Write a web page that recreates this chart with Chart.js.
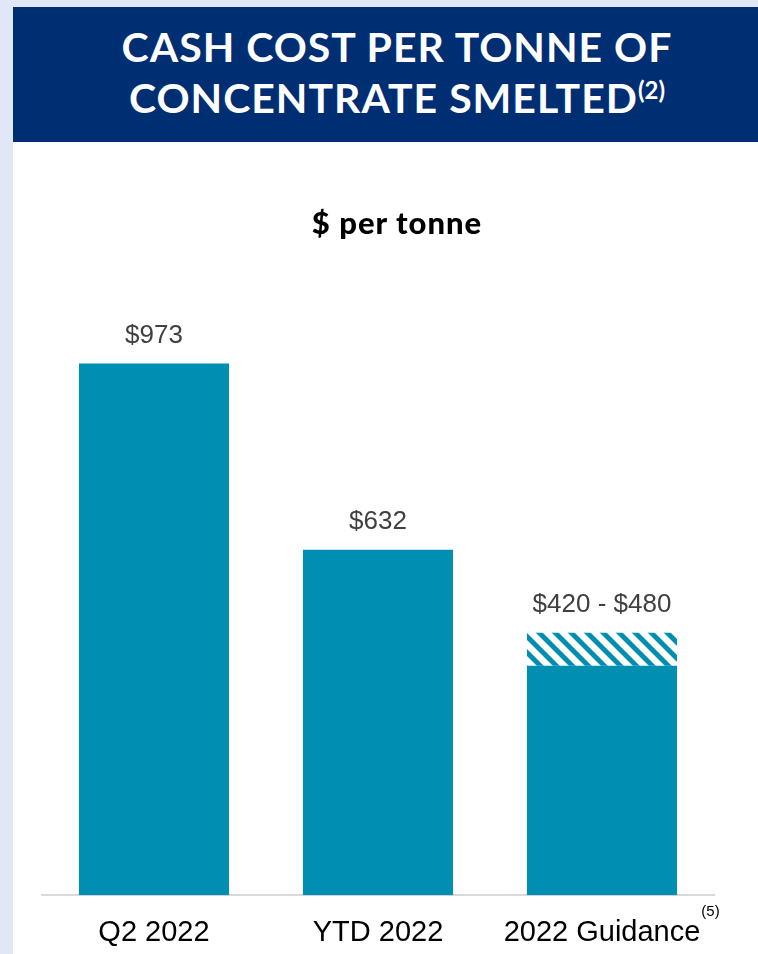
<!DOCTYPE html>
<html>
<head>
<meta charset="utf-8">
<script src="https://cdn.jsdelivr.net/npm/chart.js@4"></script>
<style>
    body { margin: 0; background: #e1e7f6; width: 758px; height: 954px; overflow: hidden; position: relative; }
    #banda { position: absolute; left: 13px; top: 7px; width: 745px; height: 135px; background: #002e73; }
    #titulo { position: absolute; left: 36px; top: 21px; width: 722px; text-align: center; color: #fff;
              font-family: Lato, "DejaVu Sans", sans-serif; font-weight: 700; font-size: 41px; line-height: 51px; letter-spacing: 1px; }
    #titulo sup { font-size: 24px; vertical-align: 0; position: relative; top: -14px; letter-spacing: 0; }
    #panel { position: absolute; left: 13px; top: 142px; width: 745px; height: 812px; background: #fff; overflow: hidden; }
    #subtitulo { position: absolute; left: 0; width: 768px; top: 61px; text-align: center; color: #000;
                 font-family: Lato, "DejaVu Sans", sans-serif; font-weight: 900; font-size: 31px; line-height: 38px; letter-spacing: 1px; }
    canvas { position: absolute; left: 0; top: 0; }
</style>
</head>
<body>
<div id="banda"></div>
<div id="titulo">CASH COST PER TONNE OF<br>CONCENTRATE SMELTED<sup>(2)</sup></div>
<div id="panel">
    <canvas id="costoChart" width="745" height="820"></canvas>
    <div id="subtitulo">$ per tonne</div>
</div>
<script>
// Datos del gráfico
const categorias = ["Q2 2022", "YTD 2022", "2022 Guidance"];
const costoBase = [973, 632, 420];
const rangoGuia = [0, 0, 60];          // parte rayada: 420 -> 480
const etiquetasValor = ["$973", "$632", "$420 - $480"];
const notaGuia = "(5)";

const colorTeal = "#008fb3";
const fuenteEje = "'Liberation Sans', Arial, sans-serif";

// Patrón rayado diagonal
function crearRayado() {
    const c = document.createElement("canvas");
    c.width = 16;
    c.height = 16;
    const g = c.getContext("2d");
    g.fillStyle = "#ffffff";
    g.fillRect(0, 0, 16, 16);
    g.fillStyle = colorTeal;
    [-16, 0, 16].forEach((k) => {
        g.beginPath();
        g.moveTo(k, 0);
        g.lineTo(k + 7, 0);
        g.lineTo(k + 23, 16);
        g.lineTo(k + 16, 16);
        g.closePath();
        g.fill();
    });
    return document.getElementById("costoChart").getContext("2d").createPattern(c, "repeat");
}

// Etiquetas de valor y nota sobre la última categoría
const etiquetasPlugin = {
    id: "etiquetas",
    afterDatasetsDraw(chart) {
        const ctx = chart.ctx;
        const xs = chart.scales.x;
        const ys = chart.scales.y;
        ctx.save();
        ctx.font = "26px " + fuenteEje;
        ctx.fillStyle = "#404040";
        ctx.textAlign = "center";
        ctx.textBaseline = "middle";
        categorias.forEach((cat, i) => {
            const tope = ys.getPixelForValue(costoBase[i] + rangoGuia[i]);
            ctx.fillText(etiquetasValor[i], xs.getPixelForValue(i), tope - 28);
        });
        // nota (5)
        ctx.font = "29px " + fuenteEje;
        const ancho = ctx.measureText(categorias[2]).width;
        ctx.font = "15px " + fuenteEje;
        ctx.fillStyle = "#000";
        ctx.textAlign = "left";
        ctx.fillText(notaGuia, xs.getPixelForValue(2) + ancho / 2 + 1, chart.chartArea.bottom + 17);
        ctx.restore();
    }
};

new Chart(document.getElementById("costoChart"), {
    type: "bar",
    data: {
        labels: categorias,
        datasets: [{
            label: "Costo",
            data: costoBase,
            backgroundColor: colorTeal,
            barPercentage: 0.67,
            categoryPercentage: 1
        }, {
            label: "Rango guía",
            data: rangoGuia,
            backgroundColor: crearRayado(),
            barPercentage: 0.67,
            categoryPercentage: 1
        }]
    },
    options: {
        responsive: false,
        animation: false,
        layout: { padding: { left: 29, right: 44, top: 152, bottom: 0 } },
        plugins: {
            legend: { display: false },
            tooltip: { enabled: false },
            title: { display: false }
        },
        scales: {
            x: {
                stacked: true,
                grid: { display: false },
                border: { color: "#d9d9d9", width: 2 },
                ticks: {
                    color: "#000",
                    padding: 12,
                    font: { family: fuenteEje, size: 29 }
                }
            },
            y: {
                stacked: true,
                min: 0,
                max: 1100,
                display: false
            }
        }
    },
    plugins: [etiquetasPlugin]
});
</script>
</body>
</html>
